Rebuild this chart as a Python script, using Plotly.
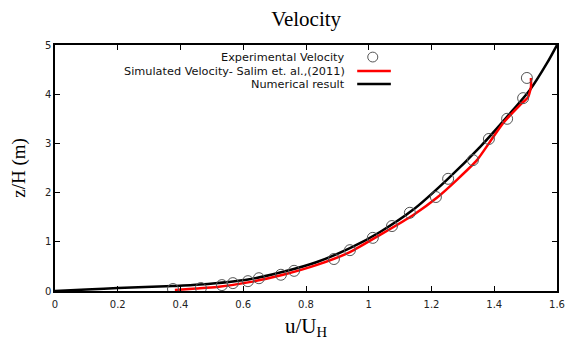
import plotly.graph_objects as go

# Experimental velocity (circles)
u_exp = [0.376, 0.465, 0.532, 0.567, 0.615, 0.650, 0.720, 0.762, 0.889, 0.940,
         1.013, 1.074, 1.131, 1.214, 1.253, 1.332, 1.383, 1.441, 1.492, 1.504]
z_exp = [0.04, 0.06, 0.12, 0.16, 0.20, 0.26, 0.33, 0.41, 0.65, 0.83,
         1.08, 1.32, 1.59, 1.91, 2.28, 2.66, 3.09, 3.50, 3.92, 4.33]

# Simulated velocity - Salim et al. (2011)
u_sim = [0.382, 0.45, 0.516, 0.62, 0.727, 0.835, 0.94, 1.036, 1.141, 1.218,
         1.281, 1.345, 1.386, 1.428, 1.482, 1.508, 1.517, 1.517]
z_sim = [0.02, 0.05, 0.08, 0.18, 0.33, 0.53, 0.79, 1.14, 1.54, 1.90,
         2.26, 2.66, 3.03, 3.41, 3.78, 3.94, 4.15, 4.33]

# Numerical result
u_num = [0, 0.1, 0.2, 0.376, 0.462, 0.62, 0.727, 0.835, 0.94, 1.036, 1.141,
         1.249, 1.355, 1.460, 1.514, 1.568, 1.6]
z_num = [0, 0.03, 0.06, 0.10, 0.13, 0.24, 0.39, 0.59, 0.87, 1.20, 1.65,
         2.26, 2.93, 3.68, 4.09, 4.63, 5.0]

x_ticks = [0, 0.2, 0.4, 0.6, 0.8, 1, 1.2, 1.4, 1.6]
y_ticks = [0, 1, 2, 3, 4, 5]

legend_labels = ["Experimental Velocity",
                 "Simulated Velocity- Salim et. al.,(2011)",
                 "Numerical result"]

fig = go.Figure()
fig.add_trace(go.Scatter(x=u_num, y=z_num, mode="lines",
                         line=dict(color="black", width=2.5, shape="spline", smoothing=0.8),
                         showlegend=False))
fig.add_trace(go.Scatter(x=u_sim, y=z_sim, mode="lines",
                         line=dict(color="#ff0000", width=2.5, shape="spline", smoothing=0.5),
                         showlegend=False))
fig.add_trace(go.Scatter(x=u_exp, y=z_exp, mode="markers",
                         marker=dict(symbol="circle-open", size=11, color="#555555", line=dict(width=1)),
                         showlegend=False))

# custom legend (text right-aligned, sample on the right)
rows_y = [0.951, 0.894, 0.841]
for lab, yy in zip(legend_labels, rows_y):
    fig.add_annotation(xref="paper", yref="paper", x=0.582, y=yy, text=lab, showarrow=False,
                       xanchor="right", yanchor="middle",
                       font=dict(family="DejaVu Sans", size=11.3, color="#111111"))
fig.add_shape(type="circle", xref="paper", yref="paper",
              x0=0.633 - 0.010, x1=0.633 + 0.010, y0=rows_y[0] - 0.020, y1=rows_y[0] + 0.020,
              line=dict(color="#555555", width=1))
fig.add_shape(type="line", xref="paper", yref="paper", x0=0.602, x1=0.669, y0=rows_y[1], y1=rows_y[1],
              line=dict(color="#ff0000", width=2.5))
fig.add_shape(type="line", xref="paper", yref="paper", x0=0.602, x1=0.669, y0=rows_y[2], y1=rows_y[2],
              line=dict(color="black", width=2.5))

axis_common = dict(showline=True, linecolor="black", linewidth=1.5, mirror="ticks",
                   ticks="inside", ticklen=5, tickcolor="black", showgrid=False, zeroline=False,
                   automargin=False,
                   tickfont=dict(family="DejaVu Sans", size=10, color="#222222"))

fig.update_xaxes(range=[0, 1.6], tickvals=x_ticks, ticktext=[str(v) for v in x_ticks],
                 ticklabelstandoff=3,
                 title=dict(text="u/U<sub>H</sub>", font=dict(family="Liberation Serif", size=21, color="black"),
                            standoff=10), **axis_common)
fig.update_yaxes(range=[0, 5], tickvals=y_ticks,
                 title=dict(text="z/H (m)", font=dict(family="Liberation Serif", size=19, color="black"),
                            standoff=14), **axis_common)

fig.update_layout(
    width=582, height=340,
    margin=dict(l=55, r=25, t=45, b=49),
    paper_bgcolor="white", plot_bgcolor="white",
    title=dict(text="Velocity", x=0.526, xanchor="center", y=0.945, yanchor="middle",
               font=dict(family="Liberation Serif", size=21, color="black")),
)

fig.write_html("out.html", config={"displayModeBar": False},
               post_script="document.body.style.margin='0';")
